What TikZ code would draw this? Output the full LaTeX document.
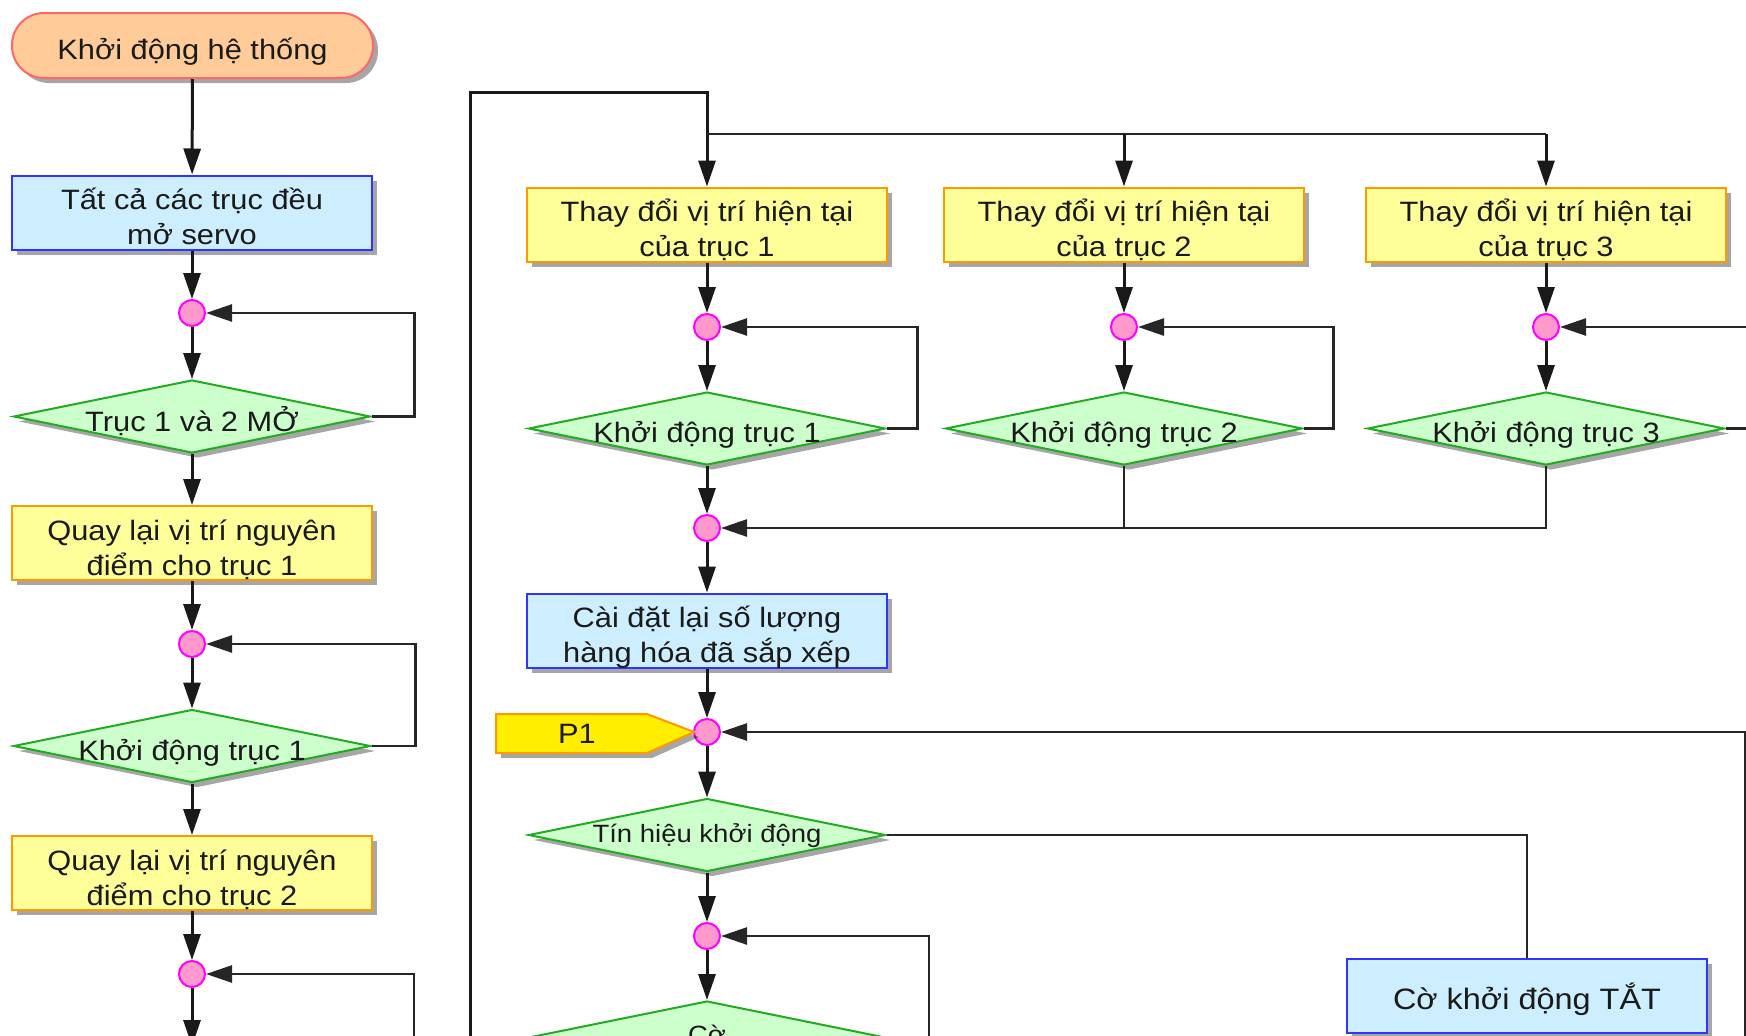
\documentclass[tikz,border=0pt]{standalone}
\usepackage{fontspec}
\setmainfont{Liberation Sans}[FakeStretch=1.1]
\usetikzlibrary{shapes.geometric,arrows.meta,shadows}
\definecolor{termfill}{HTML}{FFCC99}
\definecolor{termdraw}{HTML}{FF6666}
\definecolor{bluefill}{HTML}{CCEEFF}
\definecolor{bluedraw}{HTML}{3333FF}
\definecolor{yelfill}{HTML}{FFFF99}
\definecolor{yeldraw}{HTML}{FF9900}
\definecolor{grnfill}{HTML}{CCFFCC}
\definecolor{grndraw}{HTML}{22AA22}
\definecolor{pinkfill}{HTML}{FF99CC}
\definecolor{pinkdraw}{HTML}{FF00FF}
\definecolor{flagfill}{HTML}{FFEE00}
\definecolor{inkc}{HTML}{1A1A1A}
\newcommand\fMain{\fontsize{28}{35}\selectfont\lineskiplimit=-100pt}
\newcommand\fSmall{\fontsize{25}{31}\selectfont\lineskiplimit=-100pt}
\newcommand\fBig{\fontsize{29.5}{36}\selectfont\lineskiplimit=-100pt}
\newcommand\stt{\rule[-5pt]{0pt}{39pt}}
\newcommand\sstt{\rule[-12pt]{0pt}{38pt}}
\begin{document}
\begin{tikzpicture}[x=1pt,y=-1pt,
  shd/.style={drop shadow={shadow xshift=5pt,shadow yshift=-5pt,opacity=0.35,fill=black}},
  base/.style={inner sep=0pt, align=center, font=\fMain, text=inkc, line width=2pt},
  term/.style={base, shd, rectangle, rounded corners=32pt, draw=termdraw, fill=termfill,
    minimum width=361pt, minimum height=65pt},
  bbox/.style={base, shd, rectangle, draw=bluedraw, fill=bluefill, minimum width=360pt, minimum height=74pt},
  ybox/.style={base, shd, rectangle, draw=yeldraw, fill=yelfill, minimum width=360pt, minimum height=74pt},
  dia/.style={base, shd, diamond, draw=grndraw, fill=grnfill, minimum width=357pt, minimum height=73pt},
  dot/.style={circle, draw=pinkdraw, fill=pinkfill, line width=2pt, minimum size=26pt, inner sep=0pt},
  flagsh/.style={shd, draw=yeldraw, fill=flagfill, line width=2pt},
  ar/.style={draw=black!90, line width=3pt, -{Triangle[length=26pt,width=17pt]}},
  lp/.style={draw=black!85, line width=2.5pt},
  la/.style={lp, -{Triangle[length=26pt,width=17pt]}}
]
\useasboundingbox (0,0) rectangle (1746,1036);
\clip (0,0) rectangle (1746,1036);

% left column
\node[term] (start) at (192.5,45.5) {\stt Khởi động hệ thống};
\node[bbox] (b1) at (192,212.5) {\stt Tất cả các trục đều\\\stt mở servo};
\node[dot] (c1) at (192,313) {};
\node[dia] (d1) at (192,416.5) {\makebox[0pt]{\stt Trục 1 và 2 MỞ}};
\node[ybox] (b2) at (192,543) {\stt Quay lại vị trí nguyên\\\stt điểm cho trục 1};
\node[dot] (c2) at (192,644) {};
\node[dia] (d2) at (192,746) {\makebox[0pt]{\stt Khởi động trục 1}};
\node[ybox] (b3) at (192,873) {\stt Quay lại vị trí nguyên\\\stt điểm cho trục 2};
\node[dot] (c3) at (192,974) {};
\coordinate (n3) at (192,1046);
\coordinate (l3) at (414,1046);

% middle column
\node[ybox] (t1) at (707,224.5) {\stt Thay đổi vị trí hiện tại\\\stt của trục 1};
\node[dot] (tc1) at (707,327) {};
\node[dia] (td1) at (707,428.5) {\makebox[0pt]{\stt Khởi động trục 1}};
\node[dot] (m) at (707,528) {};
\node[bbox] (reset) at (707,631) {\stt Cài đặt lại số lượng\\\stt hàng hóa đã sắp xếp};
\node[dot] (p) at (707,732) {};
\draw[flagsh] (496,714) -- (647,714) -- (694,732) -- (647,753) -- (496,753) -- cycle;
\node[font=\fMain, text=inkc, anchor=base] (p1) at (577,743) {P1};
\node[dia] (sig) at (707,835) {\makebox[0pt]{\fSmall\sstt Tín hiệu khởi động}};
\node[dot] (c5) at (707,936) {};
\node[dia] (cflag) at (707,1037.5) {};
\node[font=\fSmall, text=inkc, anchor=base] (cotext) at (707,1043) {Cờ};
\coordinate (l5) at (929,1046);

% column 2 and 3
\node[ybox] (t2) at (1124,224.5) {\stt Thay đổi vị trí hiện tại\\\stt của trục 2};
\node[dot] (tc2) at (1124,327) {};
\node[dia] (td2) at (1124,428.5) {\makebox[0pt]{\stt Khởi động trục 2}};
\node[ybox] (t3) at (1546,224.5) {\stt Thay đổi vị trí hiện tại\\\stt của trục 3};
\node[dot] (tc3) at (1546,327) {};
\node[dia] (td3) at (1546,428.5) {\makebox[0pt]{\stt Khởi động trục 3}};

\node[bbox, font=\fBig] (off) at (1527,995.5) {\stt Cờ khởi động TẮT};

% connectors left column
\draw[ar] (start) -- (b1);
\draw[ar] (b1) -- (c1);
\draw[ar] (c1) -- (d1);
\draw[la] (d1.east) -- ++(43,0) |- (c1);
\draw[ar] (d1) -- (b2);
\draw[ar] (b2) -- (c2);
\draw[ar] (c2) -- (d2);
\draw[la] (d2.east) -- ++(44,0) |- (c2);
\draw[ar] (d2) -- (b3);
\draw[ar] (b3) -- (c3);
\draw[ar] (c3) -- (n3);
\draw[la] (l3) |- (c3);

% top feed and branches
\coordinate (lb) at (470,1046);
\coordinate (j1) at (707,134);
\coordinate (j2) at (1124,134);
\coordinate (j3) at (1546,134);
\draw[ar] (lb) -- (470,92) -| (t1);
\draw[lp] (j1) -- (j3);
\draw[ar] (j2) -- (t2);
\draw[ar] (j3) -- (t3);

% columns
\draw[ar] (t1) -- (tc1);
\draw[ar] (tc1) -- (td1);
\draw[la] (td1.east) -- ++(31,0) |- (tc1);
\draw[ar] (t2) -- (tc2);
\draw[ar] (tc2) -- (td2);
\draw[la] (td2.east) -- ++(30,0) |- (tc2);
\draw[ar] (t3) -- (tc3);
\draw[ar] (tc3) -- (td3);
\draw[la] (td3.east) -- ++(45,0) |- (tc3);

% merge
\draw[ar] (td1) -- (m);
\draw[lp] (td2) -- (td2.south |- m);
\draw[la] (td3) |- (m);

% lower middle
\draw[ar] (m) -- (reset);
\draw[ar] (reset) -- (p);
\draw[ar] (p) -- (sig);
\draw[ar] (sig) -- (c5);
\draw[ar] (c5) -- (cflag);
\draw[la] (l5) |- (c5);
\draw[lp] (sig.east) -| (off);
\coordinate (rp) at (1745,1046);
\draw[la] (rp) |- (p);
\end{tikzpicture}
\end{document}
